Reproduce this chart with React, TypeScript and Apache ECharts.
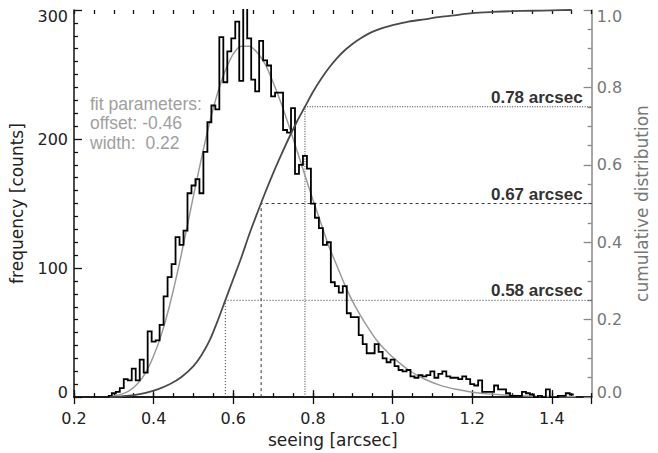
import React, { useEffect, useRef } from 'react';
import * as echarts from 'echarts';

// ---- data ----
const seeingMin = 0.2;
const seeingMax = 1.5;
const binStart = 0.285;
const binWidth = 0.01;
const counts = [
  1, 3, 4, 7, 14, 13, 22, 13, 29, 19,
  51, 43, 44, 56, 78, 93, 103, 124, 118, 129,
  158, 164, 169, 158, 190, 213, 226, 223, 279, 244,
  268, 278, 291, 245, 310, 278, 246, 237, 276, 261,
  257, 233, 236, 236, 207, 205, 224, 173, 180, 187,
  177, 150, 139, 131, 118, 120, 89, 86, 81, 86,
  65, 62, 62, 48, 41, 34, 34, 41, 35, 30,
  27, 29, 24, 21, 20, 21, 16, 15, 17, 16,
  17, 20, 15, 18, 20, 16, 15, 15, 14, 16,
  14, 10, 9, 13, 4, 4, 4, 9, 6, 6,
  3, 1, 1, 1, 4, 3, 2, 0, 1, 0,
  6, 0, 0, 1, 1, 3, 2,
];

const fitSeeing = [
  0.29, 0.3, 0.32, 0.34, 0.36, 0.38, 0.4, 0.42, 0.44, 0.46, 0.48, 0.5, 0.52, 0.54, 0.56, 0.58,
  0.6, 0.62, 0.64, 0.66, 0.68, 0.7, 0.72, 0.74, 0.76, 0.78, 0.8, 0.82, 0.84, 0.86, 0.88, 0.9,
  0.92, 0.94, 0.96, 0.98, 1.0, 1.04, 1.08, 1.12, 1.16, 1.2, 1.24, 1.28, 1.32, 1.36, 1.4, 1.46,
];
const fitCounts = [
  0.5, 0.9, 2.3, 5.2, 10.5, 19, 32, 49, 71, 97, 126, 156, 185, 212, 235, 253,
  266, 272, 272, 267, 258, 244, 228, 210, 191, 172, 153, 135, 117, 102, 87, 74,
  63, 53, 44, 37, 31, 21, 14, 9.1, 6.0, 3.8, 2.5, 1.6, 1.0, 0.6, 0.4, 0.2,
];

const cumSeeing = [
  0.29, 0.32, 0.35, 0.38, 0.41, 0.44, 0.47, 0.5, 0.52, 0.54, 0.56, 0.58, 0.6, 0.62, 0.64, 0.66,
  0.68, 0.7, 0.72, 0.74, 0.76, 0.78, 0.8, 0.82, 0.84, 0.86, 0.88, 0.9, 0.92, 0.94, 0.96, 0.98,
  1.0, 1.04, 1.08, 1.12, 1.16, 1.2, 1.25, 1.3, 1.35, 1.4, 1.45,
];
const cumFraction = [
  0, 0.002, 0.005, 0.011, 0.02, 0.033, 0.052, 0.08, 0.108, 0.145, 0.195, 0.25, 0.305, 0.36, 0.42, 0.475,
  0.528, 0.578, 0.625, 0.67, 0.712, 0.75, 0.788, 0.821, 0.85, 0.875, 0.896, 0.913, 0.927, 0.939, 0.948, 0.955,
  0.961, 0.97, 0.976, 0.982, 0.987, 0.992, 0.995, 0.997, 0.998, 0.999, 1.0,
];

const quantileSeeing = [0.58, 0.67, 0.78];
const quantileLevels = [0.25, 0.5, 0.75];
const quantileLabels = ['0.58 arcsec', '0.67 arcsec', '0.78 arcsec'];
const quantileDash = [[1, 2], [3, 3], [1, 1.5]];

const fitText = ['fit parameters:', 'offset: -0.46', 'width:  0.22'];

const countsMax = 300;
const countsInterval = 100;
const cumMax = 1;
const cumInterval = 0.2;

const axisFont = 'DejaVu Sans';
const textFont = 'Liberation Sans';

export default function App() {
  const ref = useRef<HTMLDivElement>(null);

  useEffect(() => {
    if (!ref.current) return;
    const chart = echarts.init(ref.current, undefined, { renderer: 'svg' });

    const histPoints: number[][] = [];
    counts.forEach((c, i) => {
      const lo = binStart + i * binWidth;
      const hi = lo + binWidth;
      histPoints.push([lo, c], [hi, c]);
    });

    const tickBase = { lineStyle: { color: '#111', width: 1.3 } };
    const xCommon = {
      type: 'value',
      min: seeingMin,
      max: seeingMax,
      splitLine: { show: false },
    };
    const edgeRich = {
      lo: { padding: [0, 0, 9, 0] },
      hi: { padding: [13, 0, 0, 0] },
    };

    const quantileSeries = quantileSeeing.map((q, i) => ({
      type: 'line',
      xAxisIndex: 0,
      yAxisIndex: 2,
      data: [[q, 0], [q, quantileLevels[i]], [seeingMax, quantileLevels[i]]],
      showSymbol: false,
      symbol: 'none',
      lineStyle: { color: '#333', width: 1, type: quantileDash[i] },
      z: 1,
    }));

    const option = {
      animation: false,
      backgroundColor: '#ffffff',
      grid: { left: 74, right: 51, top: 10, bottom: 53, containLabel: false },
      xAxis: [
        {
          ...xCommon,
          position: 'bottom',
          interval: 0.2,
          name: 'seeing [arcsec]',
          nameLocation: 'middle',
          nameGap: 28,
          nameTextStyle: { fontFamily: axisFont, fontSize: 17, color: '#222' },
          axisLine: { lineStyle: { color: '#111', width: 1.5 } },
          axisTick: { inside: true, length: 7, ...tickBase },
          axisLabel: {
            showMaxLabel: false,
            margin: 13,
            fontFamily: axisFont,
            fontSize: 16,
            color: '#222',
            formatter: (v: number) => v.toFixed(1),
          },
        },
        {
          ...xCommon,
          position: 'bottom',
          interval: 0.05,
          axisLine: { show: false },
          axisTick: { inside: true, length: 4, ...tickBase },
          axisLabel: { show: false },
        },
        {
          ...xCommon,
          position: 'top',
          interval: 0.2,
          axisLine: { lineStyle: { color: '#111', width: 1.5 } },
          axisTick: { inside: true, length: 7, ...tickBase },
          axisLabel: { show: false },
        },
        {
          ...xCommon,
          position: 'top',
          interval: 0.05,
          axisLine: { show: false },
          axisTick: { inside: true, length: 4, ...tickBase },
          axisLabel: { show: false },
        },
      ],
      yAxis: [
        {
          type: 'value',
          position: 'left',
          min: 0,
          max: countsMax,
          interval: countsInterval,
          name: 'frequency [counts]',
          nameLocation: 'middle',
          nameRotate: 90,
          nameGap: 49,
          nameTextStyle: { fontFamily: axisFont, fontSize: 17, color: '#222' },
          axisLine: { show: true, lineStyle: { color: '#111', width: 1.5 } },
          axisTick: { show: true, inside: true, length: 8, ...tickBase },
          minorTick: { show: true, splitNumber: 10, length: 4, ...tickBase },
          axisLabel: {
            margin: 6,
            fontFamily: axisFont,
            fontSize: 16,
            color: '#222',
            formatter: (v: number) =>
              v === 0 ? `{lo|${v}}` : v === countsMax ? `{hi|${v}}` : `${v}`,
            rich: edgeRich,
          },
          splitLine: { show: false },
        },
        {
          type: 'value',
          position: 'left',
          min: 0,
          max: countsMax,
          show: false,
        },
        {
          type: 'value',
          position: 'right',
          min: 0,
          max: cumMax,
          interval: cumInterval,
          name: 'cumulative distribution',
          nameLocation: 'middle',
          nameRotate: 90,
          nameGap: 37,
          nameTextStyle: { fontFamily: axisFont, fontSize: 17, color: '#777' },
          axisLine: { show: true, lineStyle: { color: '#888', width: 1.5 } },
          axisTick: { show: true, inside: true, length: 8, lineStyle: { color: '#888', width: 1.3 } },
          minorTick: { show: true, splitNumber: 4, length: 4, lineStyle: { color: '#888', width: 1.3 } },
          axisLabel: {
            margin: 5,
            fontFamily: axisFont,
            fontSize: 16,
            color: '#777',
            formatter: (v: number) => {
              const s = v.toFixed(1);
              return v === 0 ? `{lo|${s}}` : v === cumMax ? `{hi|${s}}` : s;
            },
            rich: edgeRich,
          },
          splitLine: { show: false },
        },
      ],
      series: [
        ...quantileSeries,
        {
          type: 'line',
          name: 'fit',
          xAxisIndex: 0,
          yAxisIndex: 0,
          data: fitSeeing.map((x, i) => [x, fitCounts[i]]),
          smooth: 0.3,
          showSymbol: false,
          symbol: 'none',
          lineStyle: { color: '#9a9a9a', width: 1.5 },
          z: 2,
        },
        {
          type: 'line',
          name: 'histogram',
          xAxisIndex: 0,
          yAxisIndex: 0,
          data: histPoints,
          showSymbol: false,
          symbol: 'none',
          clip: true,
          lineStyle: { color: '#000', width: 1.8, join: 'miter' },
          z: 3,
        },
        {
          type: 'line',
          name: 'cumulative',
          xAxisIndex: 0,
          yAxisIndex: 2,
          data: cumSeeing.map((x, i) => [x, cumFraction[i]]),
          smooth: 0.3,
          showSymbol: false,
          symbol: 'none',
          lineStyle: { color: '#4a4a4a', width: 1.8 },
          z: 4,
        },
      ],
    };

    chart.setOption(option as any);

    const graphics: any[] = [
      {
        id: 'fit-text',
        type: 'text',
        left: 90,
        top: 94,
        z: 10,
        style: {
          text: fitText.join('\n'),
          fill: '#a0a0a0',
          fontFamily: textFont,
          fontSize: 17.5,
          lineHeight: 19.5,
        },
      },
    ];
    quantileLevels.forEach((lv, i) => {
      const p = chart.convertToPixel({ xAxisIndex: 0, yAxisIndex: 2 } as any, [seeingMax, lv]) as number[];
      graphics.push({
        id: 'q-label-' + i,
        type: 'text',
        x: p[0] - 9,
        y: p[1] - 1,
        z: 10,
        style: {
          text: quantileLabels[i],
          fill: '#333',
          fontFamily: textFont,
          fontSize: 17,
          fontWeight: 'bold',
          align: 'right',
          verticalAlign: 'bottom',
        },
      });
    });
    chart.setOption({ graphic: graphics } as any);

    return () => chart.dispose();
  }, []);

  return (
    <div
      ref={ref}
      style={{ position: 'fixed', left: 0, top: 0, width: 658, height: 453, background: '#fff' }}
    />
  );
}
